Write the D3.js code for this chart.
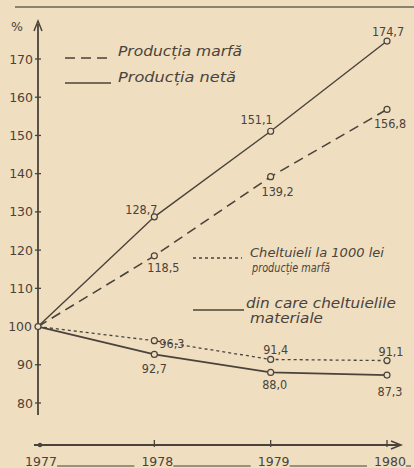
<!DOCTYPE html>
<html>
<head>
<meta charset="utf-8">
<script src="https://cdn.jsdelivr.net/npm/d3@7"></script>
<style>
  html, body { margin: 0; padding: 0; background: #efdec0; }
  svg { display: block; }
  .num { font-family: "DejaVu Sans Condensed", "DejaVu Sans", sans-serif; font-size: 12.5px; fill: #4a433b; }
  .tick-lbl { font-family: "DejaVu Sans", sans-serif; font-size: 12.5px; fill: #4a433b; }
  .leg { font-family: "DejaVu Sans Condensed", "DejaVu Sans", sans-serif; font-style: italic; fill: #4a433b; }
</style>
</head>
<body>
<div id="chart"></div>
<script>
const years = [1977, 1978, 1979, 1980];
const productiaMarfa = [100, 118.5, 139.2, 156.8];
const productiaNeta = [100, 128.7, 151.1, 174.7];
const cheltuieli = [100, 96.3, 91.4, 91.1];
const cheltuieliMateriale = [100, 92.7, 88.0, 87.3];
const yTicks = [80, 90, 100, 110, 120, 130, 140, 150, 160, 170];

// label placement around the points (1978..1980), [dx, dy, anchor]
const offNeta = [[-13, -3, 'middle'], [-14, -7, 'middle'], [1, -5, 'middle']];
const offMarfa = [[9, 16, 'middle'], [7, 19, 'middle'], [3, 19, 'middle']];
const offChelt = [[5, 7, 'start'], [5, -5, 'middle'], [4, -5, 'middle']];
const offMat = [[0, 19, 'middle'], [4, 17, 'middle'], [3, 21, 'middle']];

const W = 414, H = 468;
const ink = '#4a433b';
const paper = '#efdec0';

const svg = d3.select('#chart').append('svg').attr('width', W).attr('height', H);
svg.append('rect').attr('width', W).attr('height', H).attr('fill', paper);

// top border of the page
svg.append('line').attr('x1', 15).attr('x2', W).attr('y1', 7).attr('y2', 7)
  .attr('stroke', ink).attr('stroke-width', 1.5).attr('opacity', 0.8);

const x = d3.scaleLinear().domain([1977, 1980]).range([38, 387]);
const y = d3.scaleLinear().domain([80, 170]).range([403, 59]);

const ro = d3.formatLocale({decimal: ',', thousands: '.', grouping: [3], currency: ['', '']});
const fmt = ro.format('.1f');

// y axis
const yAxisX = 38;
svg.append('line').attr('x1', yAxisX).attr('x2', yAxisX).attr('y1', 415).attr('y2', 24)
  .attr('stroke', ink).attr('stroke-width', 1.8);
svg.append('path').attr('d', 'M' + (yAxisX - 4) + ',31 L' + yAxisX + ',21 L' + (yAxisX + 4) + ',31')
  .attr('fill', 'none').attr('stroke', ink).attr('stroke-width', 1.5);
const yt = svg.append('g');
yt.selectAll('line').data(yTicks).join('line')
  .attr('x1', yAxisX - 3).attr('x2', yAxisX + 3)
  .attr('y1', d => y(d)).attr('y2', d => y(d))
  .attr('stroke', ink).attr('stroke-width', 1.3);
yt.selectAll('text').data(yTicks).join('text')
  .attr('class', 'tick-lbl')
  .attr('x', d => d === 100 ? 32 : 33).attr('y', d => y(d) + 4.5)
  .attr('text-anchor', 'end')
  .text(d => d);
svg.append('text').attr('class', 'tick-lbl').attr('x', 11).attr('y', 31).attr('font-size', 15).text('%');

// x axis
const xAxisY = 445;
svg.append('line').attr('x1', 34).attr('x2', 399).attr('y1', xAxisY).attr('y2', xAxisY)
  .attr('stroke', ink).attr('stroke-width', 2);
svg.append('path').attr('d', 'M391,' + (xAxisY - 4) + ' L401,' + xAxisY + ' L391,' + (xAxisY + 4))
  .attr('fill', 'none').attr('stroke', ink).attr('stroke-width', 1.5);
svg.append('circle').attr('cx', x(1977) + 2).attr('cy', xAxisY).attr('r', 2.2).attr('fill', ink);
svg.append('g').selectAll('line').data(years.slice(1)).join('line')
  .attr('x1', d => x(d)).attr('x2', d => x(d))
  .attr('y1', xAxisY - 5).attr('y2', xAxisY + 2)
  .attr('stroke', ink).attr('stroke-width', 1.3);

const yearLbl = svg.append('g');
yearLbl.selectAll('text').data(years).join('text')
  .attr('class', 'tick-lbl')
  .attr('x', d => x(d) + 3).attr('y', 466)
  .attr('text-anchor', 'middle')
  .text(d => d);
// underscores between year labels
yearLbl.selectAll('line').data(years).join('line')
  .attr('x1', d => x(d) + 19)
  .attr('x2', (d, i) => i < years.length - 1 ? x(years[i + 1]) - 20 : x(d) + 24)
  .attr('y1', 466).attr('y2', 466)
  .attr('stroke', ink).attr('stroke-width', 1);

const line = d3.line().x((d, i) => x(years[i])).y(d => y(d));

function drawSeries(values, dash, width, offsets) {
  svg.append('path').datum(values)
    .attr('d', line)
    .attr('fill', 'none')
    .attr('stroke', ink)
    .attr('stroke-width', width)
    .attr('stroke-dasharray', dash);
  const g = svg.append('g');
  g.selectAll('circle').data(values.slice(1)).join('circle')
    .attr('cx', (d, i) => x(years[i + 1]))
    .attr('cy', d => y(d))
    .attr('r', 3)
    .attr('fill', paper)
    .attr('stroke', ink)
    .attr('stroke-width', 1.2);
  g.selectAll('text').data(values.slice(1)).join('text')
    .attr('class', 'num')
    .attr('x', (d, i) => x(years[i + 1]) + offsets[i][0])
    .attr('y', d => y(d))
    .attr('dy', (d, i) => offsets[i][1])
    .attr('text-anchor', (d, i) => offsets[i][2])
    .text(d => fmt(d));
}

drawSeries(productiaNeta, null, 1.4, offNeta);
drawSeries(productiaMarfa, '10,6', 1.6, offMarfa);
drawSeries(cheltuieli, '3,3', 1.3, offChelt);
drawSeries(cheltuieliMateriale, null, 1.8, offMat);

// shared start point
svg.append('circle').attr('cx', x(1977)).attr('cy', y(100)).attr('r', 3)
  .attr('fill', paper).attr('stroke', ink).attr('stroke-width', 1.2);

// legends
const leg = svg.append('g');
leg.append('line').attr('x1', 65).attr('x2', 111).attr('y1', 58).attr('y2', 58)
  .attr('stroke', ink).attr('stroke-width', 1.5).attr('stroke-dasharray', '10,6');
leg.append('text').attr('class', 'leg').attr('x', 118).attr('y', 56).attr('font-size', 14)
  .attr('textLength', 124).attr('lengthAdjust', 'spacingAndGlyphs').text('Producția marfă');
leg.append('line').attr('x1', 65).attr('x2', 111).attr('y1', 83).attr('y2', 83)
  .attr('stroke', ink).attr('stroke-width', 1.3);
leg.append('text').attr('class', 'leg').attr('x', 118).attr('y', 82).attr('font-size', 14)
  .attr('textLength', 118).attr('lengthAdjust', 'spacingAndGlyphs').text('Producția netă');

leg.append('line').attr('x1', 193).attr('x2', 242).attr('y1', 258).attr('y2', 258)
  .attr('stroke', ink).attr('stroke-width', 1.3).attr('stroke-dasharray', '3,3');
leg.append('text').attr('class', 'leg').attr('x', 250).attr('y', 257).attr('font-size', 13)
  .attr('textLength', 134).attr('lengthAdjust', 'spacingAndGlyphs').text('Cheltuieli la 1000 lei');
leg.append('text').attr('class', 'leg').attr('x', 252).attr('y', 272).attr('font-size', 13)
  .attr('textLength', 78).attr('lengthAdjust', 'spacingAndGlyphs').text('producție marfă');
leg.append('line').attr('x1', 193).attr('x2', 244).attr('y1', 310).attr('y2', 310)
  .attr('stroke', ink).attr('stroke-width', 1.3);
leg.append('text').attr('class', 'leg').attr('x', 246).attr('y', 308).attr('font-size', 13.5)
  .attr('textLength', 150).attr('lengthAdjust', 'spacingAndGlyphs').text('din care cheltuielile');
leg.append('text').attr('class', 'leg').attr('x', 250).attr('y', 323).attr('font-size', 13.5)
  .attr('textLength', 73).attr('lengthAdjust', 'spacingAndGlyphs').text('materiale');
</script>
</body>
</html>
